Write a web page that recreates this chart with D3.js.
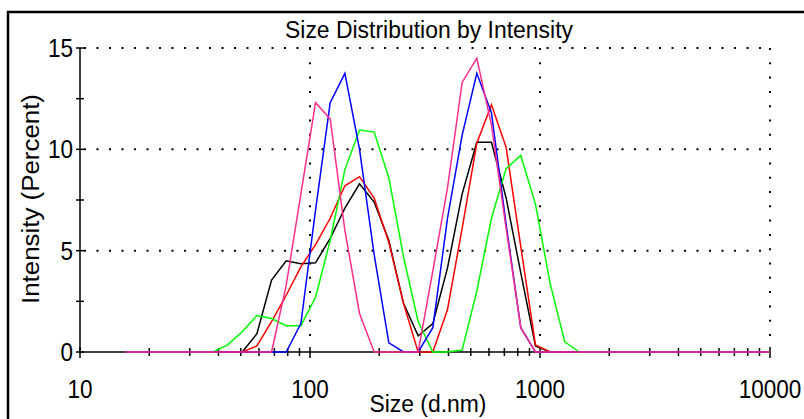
<!DOCTYPE html>
<html>
<head>
<meta charset="utf-8">
<script src="https://cdnjs.cloudflare.com/ajax/libs/d3/7.8.5/d3.min.js"></script>
<style>
  html, body { margin: 0; padding: 0; background: #fff; }
  svg { display: block; font-family: "Liberation Sans", Arial, sans-serif; }
</style>
</head>
<body>
<div id="chart"></div>
<script>
// size classes (d.nm) shown on the chart
const sizes = [15.69, 18.17, 21.04, 24.36, 28.21, 32.67, 37.84, 43.82, 50.75, 58.77,
  68.06, 78.82, 91.28, 105.7, 122.4, 141.8, 164.2, 190.1, 220.2, 255.0,
  295.3, 342.0, 396.1, 458.7, 531.2, 615.1, 712.4, 825.0, 955.4, 1106,
  1281, 1484, 1718, 1990, 2305, 2669, 3091, 3580, 4145, 4801,
  5560, 6439, 7456, 8635, 10000]

// intensity (%) per size class, one array per record
const black = [0, 0, 0, 0, 0, 0, 0, 0, 0, 0.9,
  3.55, 4.5, 4.35, 4.4, 5.6, 7.1, 8.3, 7.4, 5.5, 2.4,
  0.8, 1.4, 4.15, 7.8, 10.35, 10.35, 7.6, 3.9, 0.3, 0,
  0, 0, 0, 0, 0, 0, 0, 0, 0, 0, 0, 0, 0, 0, 0]
const red = [0, 0, 0, 0, 0, 0, 0, 0, 0, 0.3,
  1.5, 2.8, 4.2, 5.3, 6.6, 8.2, 8.65, 7.6, 5.4, 2.4,
  0, 0, 2.1, 6.1, 10.3, 12.2, 10.1, 5.2, 0.35, 0,
  0, 0, 0, 0, 0, 0, 0, 0, 0, 0, 0, 0, 0, 0, 0]
const green = [0, 0, 0, 0, 0, 0, 0, 0.35, 1.0, 1.8,
  1.65, 1.3, 1.3, 2.7, 5.5, 9.0, 10.95, 10.85, 8.6, 4.7,
  1.5, 0, 0, 0.1, 3.0, 6.6, 9.05, 9.7, 7.3, 3.4,
  0.5, 0, 0, 0, 0, 0, 0, 0, 0, 0, 0, 0, 0, 0, 0]
const blue = [0, 0, 0, 0, 0, 0, 0, 0, 0, 0,
  0, 0, 1.4, 7.0, 12.3, 13.75, 10.0, 4.8, 0.45, 0,
  0, 1.2, 6.6, 10.7, 13.75, 11.8, 6.3, 1.2, 0, 0,
  0, 0, 0, 0, 0, 0, 0, 0, 0, 0, 0, 0, 0, 0, 0]
const pink = [0, 0, 0, 0, 0, 0, 0, 0, 0, 0,
  0, 3.3, 7.8, 12.3, 11.5, 6.0, 1.9, 0, 0, 0,
  0, 4.0, 8.1, 13.3, 14.5, 11.2, 6.1, 1.2, 0, 0,
  0, 0, 0, 0, 0, 0, 0, 0, 0, 0, 0, 0, 0, 0, 0]

const series = [
  { values: black, colour: "#000000" },
  { values: red, colour: "#ff0000" },
  { values: green, colour: "#00ff00" },
  { values: blue, colour: "#0000ff" },
  { values: pink, colour: "#ff2d8c" },
]

const xMajor = [10, 100, 1000, 10000]
const yMajor = [0, 5, 10, 15]
const yMinor = [2.5, 7.5, 12.5]

const width = 804
const height = 419

const svg = d3.select("#chart").append("svg")
  .attr("width", width)
  .attr("height", height)

// outer frame
svg.append("rect")
  .attr("x", 8).attr("y", 12)
  .attr("width", 820).attr("height", 440)
  .attr("fill", "none")
  .attr("stroke", "#000")
  .attr("stroke-width", 2.5)

const x = d3.scaleLog().domain([10, 10000]).range([80, 770])
const y = d3.scaleLinear().domain([0, 15]).range([352, 48])

// dotted grid
svg.append("g")
  .selectAll("line")
  .data(yMajor.filter(d => d > 0))
  .join("line")
  .attr("x1", x(10) + 4).attr("x2", x(10000))
  .attr("y1", d => y(d)).attr("y2", d => y(d))
  .attr("stroke", "#000")
  .attr("stroke-width", 2)
  .attr("stroke-dasharray", "2 10.5")

svg.append("g")
  .selectAll("line")
  .data(xMajor.filter(d => d > 10))
  .join("line")
  .attr("x1", d => x(d)).attr("x2", d => x(d))
  .attr("y1", y(15)).attr("y2", y(0) - 4)
  .attr("stroke", "#000")
  .attr("stroke-width", 2)
  .attr("stroke-dasharray", "2 12.3")

// axes
const axes = svg.append("g").attr("stroke", "#000").attr("stroke-width", 1.5)
axes.append("line").attr("x1", x(10)).attr("x2", x(10000)).attr("y1", y(0)).attr("y2", y(0))
axes.append("line").attr("x1", x(10)).attr("x2", x(10)).attr("y1", y(0)).attr("y2", y(15))

const xMinor = d3.range(1, 4).flatMap(p => d3.range(2, 10).map(m => m * Math.pow(10, p)))
axes.selectAll(".xminor").data(xMinor).join("line")
  .attr("x1", d => x(d)).attr("x2", d => x(d))
  .attr("y1", y(0) - 4).attr("y2", y(0) + 4)
axes.selectAll(".xmajor").data(xMajor).join("line")
  .attr("x1", d => x(d)).attr("x2", d => x(d))
  .attr("y1", y(0) - 5).attr("y2", y(0) + 6)
axes.selectAll(".yticks").data(yMajor.concat(yMinor)).join("line")
  .attr("x1", x(10) - 4).attr("x2", x(10) + 4)
  .attr("y1", d => y(d)).attr("y2", d => y(d))

// data lines
const line = d3.line()
  .x((d, i) => x(sizes[i]))
  .y(d => y(d))

svg.append("g")
  .selectAll("path")
  .data(series)
  .join("path")
  .attr("d", d => line(d.values))
  .attr("fill", "none")
  .attr("stroke", d => d.colour)
  .attr("stroke-width", 1.5)

// labels (the original font is a little condensed)
svg.append("g")
  .selectAll("text")
  .data(yMajor)
  .join("text")
  .attr("transform", d => `translate(73,${y(d) + 9}) scale(0.9,1)`)
  .attr("text-anchor", "end")
  .style("font-size", "25px")
  .text(d => d)

svg.append("g")
  .selectAll("text")
  .data(xMajor)
  .join("text")
  .attr("transform", d => `translate(${x(d)},398) scale(0.9,1)`)
  .attr("text-anchor", "middle")
  .style("font-size", "25px")
  .text(d => d)

svg.append("text")
  .attr("x", 429).attr("y", 38)
  .attr("text-anchor", "middle")
  .style("font-size", "23px")
  .attr("textLength", 288)
  .attr("lengthAdjust", "spacingAndGlyphs")
  .text("Size Distribution by Intensity")

svg.append("text")
  .attr("x", 428).attr("y", 412)
  .attr("text-anchor", "middle")
  .style("font-size", "23px")
  .attr("textLength", 117)
  .attr("lengthAdjust", "spacingAndGlyphs")
  .text("Size (d.nm)")

svg.append("text")
  .attr("transform", "translate(39,199) rotate(-90)")
  .attr("text-anchor", "middle")
  .style("font-size", "23px")
  .attr("textLength", 210)
  .attr("lengthAdjust", "spacingAndGlyphs")
  .text("Intensity (Percent)")
</script>
</body>
</html>
